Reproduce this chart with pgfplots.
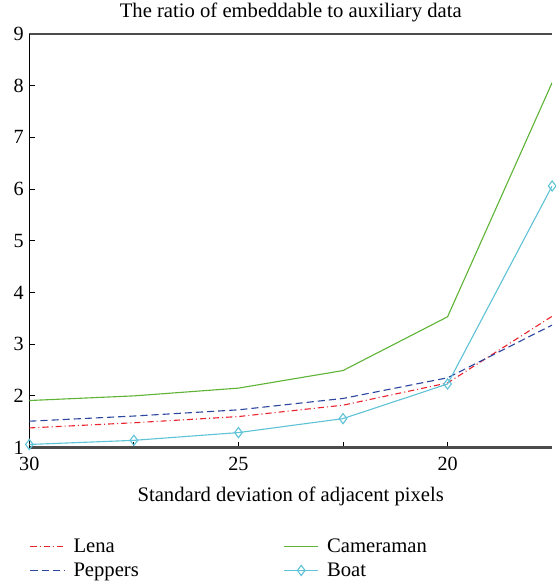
\documentclass[border=0pt]{standalone}
\usepackage{fontspec}
\setmainfont{Liberation Serif}
\usepackage{pgfplots}
\pgfplotsset{compat=1.18}
\definecolor{lenared}{RGB}{235,35,45}
\definecolor{pepblue}{RGB}{45,70,160}
\definecolor{camgreen}{RGB}{95,180,55}
\definecolor{boatcyan}{RGB}{95,195,215}
\begin{document}
\begin{tikzpicture}
\begin{axis}[
  name=ax,
  font=\fontsize{20.5}{24}\selectfont,
  tick label style={font=\fontsize{20}{24}\selectfont},
  scale only axis, width=517bp, height=409bp,
  x dir=reverse, xmin=17.5, xmax=30, ymin=1, ymax=9,
  xtick={30,27.5,25,22.5,20}, xticklabels={30,,25,,20},
  ytick={1,2,3,4,5,6,7,8,9},
  xtick pos=bottom, ytick pos=left, tick align=inside,
  major tick length=6bp,
  tick style={black, line width=0.8bp},
  /pgf/number format/assume math mode=true,
  axis x line*=box, axis y line*=left,
  every outer x axis line/.append style={-},
  every outer y axis line/.append style={-},
  every inner x axis line/.append style={-},
  every inner y axis line/.append style={-},
  x axis line style={line width=2.4bp, draw=black!70},
  y axis line style={line width=0.9bp, draw=black},
  xticklabel style={yshift=-6bp},
  yticklabel style={xshift=-2bp},
  title={The ratio of embeddable to auxiliary data},
  title style={yshift=2bp},
  xlabel={Standard deviation of adjacent pixels},
  xlabel style={yshift=-9bp},
  legend columns=2, legend transposed=true,
  legend cell align=left,
  legend style={draw=none, fill=none, at={(-0.005,-0.21)}, anchor=north west,
    /tikz/column 2/.style={column sep=141bp},
    row sep=5bp,
    font=\fontsize{20.5}{24}\selectfont},
  legend image code/.code={\draw[#1,mark repeat=2,mark phase=2] plot coordinates {(0bp,0bp) (17bp,0bp) (34bp,0bp)};
    \path (40bp,0bp);},
]
\addplot[lenared, line width=1.1bp, dash pattern=on 6bp off 3bp on 1bp off 3bp] coordinates {
 (30,1.38) (27.5,1.48) (25,1.60) (22.5,1.82) (20,2.25) (17.5,3.54)};
\addlegendentry{Lena}
\addplot[pepblue, line width=1.1bp, dash pattern=on 7bp off 4bp] coordinates {
 (30,1.51) (27.5,1.61) (25,1.73) (22.5,1.95) (20,2.35) (17.5,3.37)};
\addlegendentry{Peppers}
\addplot[camgreen, line width=1.1bp] coordinates {
 (30,1.91) (27.5,2.00) (25,2.15) (22.5,2.49) (20,3.53) (17.5,8.06)};
\addlegendentry{Cameraman}
\addplot[boatcyan, line width=1.1bp, mark=diamond, mark size=5bp, mark options={solid, line width=1.1bp}] coordinates {
 (30,1.06) (27.5,1.14) (25,1.29) (22.5,1.56) (20,2.23) (17.5,6.06)};
\addlegendentry{Boat}
\end{axis}
\path ([xshift=-29bp]ax.south west) -- (ax.south west);
\end{tikzpicture}
\end{document}
